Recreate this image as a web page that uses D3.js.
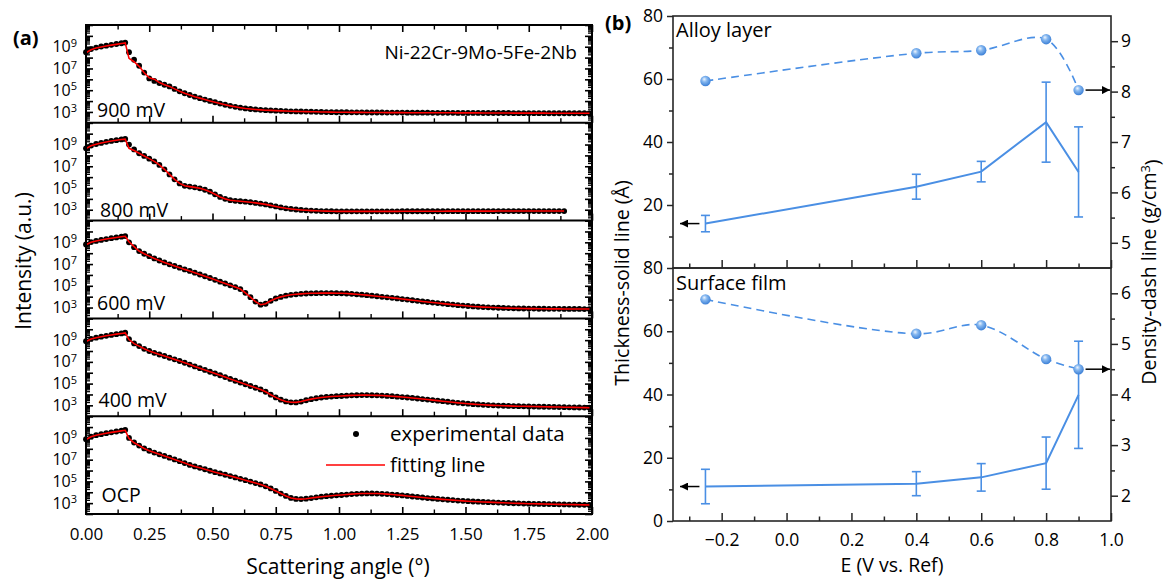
<!DOCTYPE html>
<html><head><meta charset="utf-8">
<script src="https://cdn.jsdelivr.net/npm/d3@7"></script>
<style>body{margin:0;background:#fff}</style>
</head><body>
<script>
// ---------------- DATA (panel a: log10 of intensity) ----------------
const angle = [0,0.02,0.04,0.06,0.08,0.10,0.12,0.14,0.155,0.17,
0.19,0.21,0.23,0.25,0.27,0.29,0.31,0.33,0.35,0.37,
0.39,0.41,0.43,0.45,0.47,0.49,0.51,0.53,0.55,0.57,
0.59,0.61,0.63,0.65,0.67,0.69,0.71,0.73,0.75,0.77,
0.79,0.81,0.83,0.85,0.87,0.89,0.91,0.93,0.95,0.97,
0.99,1.01,1.03,1.05,1.07,1.09,1.11,1.13,1.15,1.17,
1.19,1.21,1.23,1.25,1.27,1.29,1.31,1.33,1.35,1.37,
1.39,1.41,1.43,1.45,1.47,1.49,1.51,1.53,1.55,1.57,
1.59,1.61,1.63,1.65,1.67,1.69,1.71,1.73,1.75,1.77,
1.79,1.81,1.83,1.85,1.87,1.89,1.91,1.93,1.95,1.97,
1.99];

const panelLabels = ["900 mV","800 mV","600 mV","400 mV","OCP"];

const exp900 = [8.50,8.78,8.92,9.02,9.10,9.18,9.25,9.32,9.38,8.50,
7.80,7.25,6.62,6.08,5.85,5.66,5.50,5.35,5.12,4.90,
4.72,4.56,4.40,4.27,4.14,4.01,3.89,3.77,3.66,3.56,
3.47,3.39,3.32,3.27,3.23,3.19,3.16,3.14,3.12,3.10,
3.08,3.06,3.05,3.04,3.03,3.02,3.01,3.00,2.99,2.98,
2.97,2.97,2.97,2.96,2.96,2.96,2.95,2.95,2.95,2.95,
2.94,2.94,2.94,2.94,2.93,2.93,2.93,2.93,2.93,2.92,
2.92,2.92,2.92,2.92,2.91,2.91,2.91,2.91,2.91,2.90,
2.90,2.90,2.90,2.90,2.90,2.89,2.89,2.89,2.89,2.89,
2.89,2.89,2.88,2.88,2.88,2.88,2.88,2.88,2.88,2.88,
2.88];
const fit900 = [8.45,8.72,8.88,8.98,9.07,9.15,9.22,9.29,9.35,7.93,
7.62,7.20,6.60,6.15,6.02,5.70,5.50,5.35,5.12,4.90,
4.72,4.56,4.40,4.27,4.14,4.01,3.89,3.77,3.66,3.56,
3.47,3.39,3.32,3.27,3.23,3.19,3.16,3.14,3.12,3.10,
3.08,3.06,3.05,3.04,3.03,3.02,3.01,3.00,2.99,2.98,
2.97,2.97,2.97,2.96,2.96,2.96,2.95,2.95,2.95,2.95,
2.94,2.94,2.94,2.94,2.93,2.93,2.93,2.93,2.93,2.92,
2.92,2.92,2.92,2.92,2.91,2.91,2.91,2.91,2.91,2.90,
2.90,2.90,2.90,2.90,2.90,2.89,2.89,2.89,2.89,2.89,
2.89,2.89,2.88,2.88,2.88,2.88,2.88,2.88,2.88,2.88,
2.88];

const exp800 = [8.65,8.90,9.05,9.15,9.25,9.33,9.40,9.47,9.52,9.00,
8.55,8.20,7.95,7.70,7.45,7.12,6.72,6.25,5.80,5.42,
5.20,5.13,5.06,4.97,4.84,4.66,4.42,4.18,4.00,3.88,
3.82,3.78,3.74,3.69,3.63,3.56,3.49,3.40,3.30,3.21,
3.13,3.07,3.02,2.98,2.95,2.92,2.90,2.88,2.87,2.86,
2.85,2.85,2.85,2.85,2.85,2.85,2.85,2.85,2.85,2.85,
2.85,2.85,2.85,2.86,2.86,2.86,2.86,2.86,2.86,2.86,
2.86,2.86,2.87,2.87,2.87,2.87,2.87,2.87,2.87,2.87,
2.87,2.87,2.88,2.88,2.88,2.88,2.88,2.88,2.88,2.88,
2.88,2.88,2.88,2.88,2.88,2.88,null,null,null,null,
null];
const fit800 = [8.62,8.88,9.03,9.14,9.24,9.32,9.40,9.46,9.50,8.65,
8.45,8.20,7.95,7.70,7.45,7.12,6.72,6.25,5.80,5.42,
5.20,5.13,5.06,4.97,4.84,4.66,4.42,4.18,4.00,3.88,
3.82,3.78,3.74,3.69,3.63,3.56,3.49,3.40,3.30,3.21,
3.13,3.07,3.02,2.98,2.95,2.92,2.90,2.88,2.87,2.86,
2.85,2.85,2.85,2.85,2.85,2.85,2.85,2.85,2.85,2.85,
2.85,2.85,2.85,2.86,2.86,2.86,2.86,2.86,2.86,2.86,
2.86,2.86,2.87,2.87,2.87,2.87,2.87,2.87,2.87,2.87,
2.87,2.87,2.88,2.88,2.88,2.88,2.88,2.88,2.88,2.88,
2.88,2.88,2.88,2.88,2.88,2.88,null,null,null,null,
null];

const exp600 = [8.80,9.02,9.13,9.22,9.30,9.38,9.45,9.52,9.58,9.00,
8.55,8.20,7.95,7.73,7.52,7.33,7.15,6.98,6.82,6.67,
6.51,6.37,6.21,6.04,5.88,5.72,5.55,5.38,5.21,5.04,
4.88,4.70,4.35,3.95,3.55,3.26,3.35,3.62,3.83,3.98,
4.09,4.17,4.22,4.26,4.29,4.31,4.32,4.33,4.33,4.33,
4.32,4.31,4.29,4.26,4.22,4.18,4.14,4.09,4.04,3.99,
3.94,3.89,3.84,3.78,3.73,3.67,3.62,3.56,3.51,3.46,
3.41,3.36,3.31,3.27,3.22,3.18,3.14,3.10,3.07,3.04,
3.02,3.00,2.98,2.96,2.95,2.93,2.92,2.91,2.90,2.90,
2.89,2.89,2.88,2.88,2.88,2.87,2.87,2.87,2.87,2.86,
2.86];
const fit600 = [8.78,9.00,9.12,9.21,9.30,9.38,9.45,9.51,9.56,9.05,
8.60,8.20,7.95,7.73,7.52,7.33,7.15,6.98,6.82,6.67,
6.51,6.37,6.21,6.04,5.88,5.72,5.55,5.38,5.21,5.04,
4.88,4.70,4.35,3.95,3.55,3.26,3.35,3.62,3.83,3.98,
4.09,4.17,4.22,4.26,4.29,4.31,4.32,4.33,4.33,4.33,
4.32,4.31,4.29,4.26,4.22,4.18,4.14,4.09,4.04,3.99,
3.94,3.89,3.84,3.78,3.73,3.67,3.62,3.56,3.51,3.46,
3.41,3.36,3.31,3.27,3.22,3.18,3.14,3.10,3.07,3.04,
3.02,3.00,2.98,2.96,2.95,2.93,2.92,2.91,2.90,2.90,
2.89,2.89,2.88,2.88,2.88,2.87,2.87,2.87,2.87,2.86,
2.86];

const exp400 = [8.90,9.12,9.23,9.32,9.40,9.48,9.55,9.62,9.68,9.10,
8.70,8.45,8.20,8.00,7.83,7.68,7.54,7.38,7.23,7.08,
6.92,6.75,6.58,6.42,6.26,6.09,5.93,5.77,5.60,5.43,
5.26,5.10,4.94,4.78,4.62,4.46,4.25,3.98,3.73,3.52,
3.36,3.28,3.27,3.35,3.47,3.57,3.65,3.72,3.77,3.81,
3.84,3.86,3.89,3.92,3.93,3.94,3.94,3.93,3.92,3.90,
3.87,3.84,3.80,3.76,3.72,3.68,3.63,3.58,3.53,3.48,
3.43,3.38,3.33,3.28,3.23,3.19,3.15,3.11,3.08,3.05,
3.02,3.00,2.98,2.96,2.95,2.93,2.92,2.91,2.90,2.89,
2.88,2.87,2.86,2.85,2.84,2.83,2.82,2.81,2.80,2.79,
2.78];
const fit400 = [8.88,9.10,9.22,9.31,9.40,9.48,9.55,9.61,9.66,9.05,
8.68,8.45,8.20,8.00,7.83,7.68,7.54,7.38,7.23,7.08,
6.92,6.75,6.58,6.42,6.26,6.09,5.93,5.77,5.60,5.43,
5.26,5.10,4.94,4.78,4.62,4.46,4.25,3.98,3.73,3.52,
3.36,3.28,3.27,3.35,3.47,3.57,3.65,3.72,3.77,3.81,
3.84,3.86,3.89,3.92,3.93,3.94,3.94,3.93,3.92,3.90,
3.87,3.84,3.80,3.76,3.72,3.68,3.63,3.58,3.53,3.48,
3.43,3.38,3.33,3.28,3.23,3.19,3.15,3.11,3.08,3.05,
3.02,3.00,2.98,2.96,2.95,2.93,2.92,2.91,2.90,2.89,
2.88,2.87,2.86,2.85,2.84,2.83,2.82,2.81,2.80,2.79,
2.78];

const expOCP = [8.88,9.12,9.25,9.35,9.44,9.52,9.59,9.66,9.73,9.00,
8.58,8.30,8.03,7.82,7.65,7.49,7.34,7.18,7.02,6.86,
6.69,6.52,6.38,6.25,6.12,5.98,5.85,5.73,5.61,5.49,
5.37,5.24,5.11,4.98,4.85,4.72,4.55,4.35,4.12,3.88,
3.66,3.48,3.39,3.37,3.41,3.47,3.53,3.59,3.64,3.68,
3.72,3.75,3.79,3.83,3.86,3.88,3.89,3.89,3.88,3.86,
3.83,3.79,3.75,3.71,3.66,3.61,3.57,3.52,3.47,3.43,
3.39,3.35,3.31,3.28,3.24,3.21,3.18,3.15,3.13,3.11,
3.09,3.07,3.05,3.03,3.01,2.99,2.98,2.96,2.95,2.94,
2.93,2.92,2.91,2.90,2.89,2.88,2.87,2.86,2.85,2.84,
2.83];
const fitOCP = [8.86,9.10,9.24,9.34,9.43,9.51,9.58,9.65,9.70,8.95,
8.55,8.30,8.03,7.82,7.65,7.49,7.34,7.18,7.02,6.86,
6.69,6.52,6.38,6.25,6.12,5.98,5.85,5.73,5.61,5.49,
5.37,5.24,5.11,4.98,4.85,4.72,4.55,4.35,4.12,3.88,
3.66,3.48,3.39,3.37,3.41,3.47,3.53,3.59,3.64,3.68,
3.72,3.75,3.79,3.83,3.86,3.88,3.89,3.89,3.88,3.86,
3.83,3.79,3.75,3.71,3.66,3.61,3.57,3.52,3.47,3.43,
3.39,3.35,3.31,3.28,3.24,3.21,3.18,3.15,3.13,3.11,
3.09,3.07,3.05,3.03,3.01,2.99,2.98,2.96,2.95,2.94,
2.93,2.92,2.91,2.90,2.89,2.88,2.87,2.86,2.85,2.84,
2.83];

// ---------------- DATA (panel b) ----------------
const potential = [-0.25, 0.4, 0.6, 0.8, 0.9];
const alloyThickness = [14.1, 25.8, 30.6, 46.3, 30.5];
const alloyThicknessErr = [2.6, 3.95, 3.25, 12.7, 14.3];
const alloyDensity = [8.21, 8.76, 8.82, 9.04, 8.03];
const filmThickness = [10.9, 11.8, 13.8, 18.3, 39.9];
const filmThicknessErr = [5.45, 3.8, 4.35, 8.25, 16.95];
const filmDensity = [5.88, 5.20, 5.37, 4.70, 4.50];

// ---------------- DRAWING ----------------
const FONT = '"Open Sans", sans-serif';
const BLUE = "#4a8fe4";
const svg = d3.select("body").append("svg").attr("width",1164).attr("height",579)
  .style("font-family", FONT);
const defs = svg.append("defs");
const grad = defs.append("radialGradient").attr("id","sph")
  .attr("cx","45%").attr("cy","40%").attr("r","60%").attr("fx","38%").attr("fy","32%");
grad.append("stop").attr("offset","0%").attr("stop-color","#eef5fe");
grad.append("stop").attr("offset","40%").attr("stop-color","#86b8f0");
grad.append("stop").attr("offset","100%").attr("stop-color","#3b7fd6");
defs.append("marker").attr("id","arr").attr("viewBox","0 0 10 10").attr("refX",10).attr("refY",5)
  .attr("markerWidth",11).attr("markerHeight",8).attr("markerUnits","userSpaceOnUse").attr("orient","auto")
  .append("path").attr("d","M0,0L10,5L0,10z").attr("fill","#000");

function clean(g, color, w, fs){
  g.select(".domain").remove();
  g.selectAll(".tick line").attr("stroke",color).attr("stroke-width",w);
  g.selectAll(".tick text").attr("fill","#000").style("font-family",FONT).attr("font-size",fs);
  g.attr("font-family",null).attr("font-size",null);
}

// ===== Panel (a) =====
const aL = 86, aR = 592, aT = 25, aB = 514;
const pH = (aB - aT) / 5;
const xA = d3.scaleLinear().domain([0,2]).range([aL,aR]);
const majX = d3.range(0, 2.001, 0.25), minX = d3.range(0.125, 2, 0.25);
const spectra = [
  {label:panelLabels[0], exp:exp900, fit:fit900, lx:97, ly:116.5},
  {label:panelLabels[1], exp:exp800, fit:fit800, lx:100, ly:216.5},
  {label:panelLabels[2], exp:exp600, fit:fit600, lx:97, ly:310},
  {label:panelLabels[3], exp:exp400, fit:fit400, lx:98.5, ly:406.5},
  {label:panelLabels[4], exp:expOCP, fit:fitOCP, lx:101.5, ly:501.5}
];
const decades = d3.range(2,12).map(e=>Math.pow(10,e));
const minorLog = [];
d3.range(2,11).forEach(e=>{ for(let m=2;m<=9;m++) minorLog.push(m*Math.pow(10,e)); });

spectra.forEach((s,i)=>{
  const top = aT + i*pH, bot = top + pH;
  const y = d3.scaleLog().domain([1e2,1e11]).range([bot, top]);
  const gl = svg.append("g").attr("transform",`translate(${aL},0)`)
    .call(d3.axisLeft(y).tickValues(decades).tickSize(-7).tickPadding(9).tickFormat(()=>""));
  clean(gl,"#000",1.6,16);
  gl.selectAll(".tick text").each(function(d){
    const e = Math.round(Math.log10(d));
    if ([3,5,7,9].includes(e)) {
      const t = d3.select(this);
      t.append("tspan").text("10");
      t.append("tspan").attr("dy","-0.5em").attr("font-size",11).text(e);
    }
  });
  const glm = svg.append("g").attr("transform",`translate(${aL},0)`)
    .call(d3.axisLeft(y).tickValues(minorLog).tickSize(-4).tickFormat(()=>""));
  clean(glm,"#000",1.3,10);
  const gr = svg.append("g").attr("transform",`translate(${aR},0)`)
    .call(d3.axisRight(y).tickValues(decades).tickSize(-7).tickFormat(()=>""));
  clean(gr,"#000",1.6,10);
  const grm = svg.append("g").attr("transform",`translate(${aR},0)`)
    .call(d3.axisRight(y).tickValues(minorLog).tickSize(-4).tickFormat(()=>""));
  clean(grm,"#000",1.3,10);
  const gb = svg.append("g").attr("transform",`translate(0,${bot})`)
    .call(d3.axisBottom(xA).tickValues(majX).tickSize(-7).tickPadding(14)
      .tickFormat(i===4 ? d3.format(".2f") : ()=>""));
  clean(gb,"#000",1.6,17);
  const gbm = svg.append("g").attr("transform",`translate(0,${bot})`)
    .call(d3.axisBottom(xA).tickValues(minX).tickSize(-4.5).tickFormat(()=>""));
  clean(gbm,"#000",1.4,10);
  if (i===0){
    const gt = svg.append("g").attr("transform",`translate(0,${top})`)
      .call(d3.axisTop(xA).tickValues(majX).tickSize(-7).tickFormat(()=>""));
    clean(gt,"#000",1.6,10);
    const gtm = svg.append("g").attr("transform",`translate(0,${top})`)
      .call(d3.axisTop(xA).tickValues(minX).tickSize(-4.5).tickFormat(()=>""));
    clean(gtm,"#000",1.4,10);
  }
  const pts = angle.map((a,k)=>({a, v:s.exp[k]})).filter(d=>d.v!=null);
  svg.append("g").selectAll("circle").data(pts).join("circle")
    .attr("cx",d=>xA(d.a)).attr("cy",d=>y(Math.pow(10,d.v))).attr("r",2.9).attr("fill","#000");
  const fpts = angle.map((a,k)=>({a, v:s.fit[k]}));
  svg.append("path").datum(fpts)
    .attr("d", d3.line().defined(d=>d.v!=null).x(d=>xA(d.a)).y(d=>y(Math.pow(10,d.v))))
    .attr("fill","none").attr("stroke","#ff0000").attr("stroke-width",1.6);
  svg.append("text").attr("x",s.lx).attr("y",s.ly).attr("font-size",19.5).attr("fill","#000").text(s.label);
  if (i>0) svg.append("line").attr("x1",aL).attr("x2",aR).attr("y1",top).attr("y2",top)
    .attr("stroke","#000").attr("stroke-width",2);
});
svg.append("rect").attr("x",aL).attr("y",aT).attr("width",aR-aL).attr("height",aB-aT)
  .attr("fill","none").attr("stroke","#000").attr("stroke-width",2);

svg.append("text").attr("x",577).attr("y",58.5).attr("text-anchor","end").attr("font-size",19)
  .text("Ni-22Cr-9Mo-5Fe-2Nb");
svg.append("text").attr("x",13).attr("y",44.5).attr("font-size",20).attr("font-weight","bold").text("(a)");
svg.append("circle").attr("cx",356).attr("cy",434).attr("r",3).attr("fill","#000");
svg.append("text").attr("x",390).attr("y",441).attr("font-size",20.5).text("experimental data");
svg.append("line").attr("x1",326).attr("x2",385).attr("y1",465).attr("y2",465).attr("stroke","#ff0000").attr("stroke-width",1.6);
svg.append("text").attr("x",390).attr("y",472).attr("font-size",20.5).text("fitting line");
svg.append("text").attr("transform","translate(31,261) rotate(-90)").attr("text-anchor","middle")
  .attr("font-size",21).text("Intensity (a.u.)");
svg.append("text").attr("x",338).attr("y",574).attr("text-anchor","middle").attr("font-size",21)
  .text("Scattering angle (°)");

// ===== Panel (b) =====
const bL = 673, bR = 1111, bT = 16, bM = 268, bB = 521;
const xE = d3.scaleLinear().domain([-0.35,1.0]).range([bL,bR]);
const FR = "#262626";
const subs = [
  {name:"Alloy layer", top:bT, bot:bM, th:alloyThickness, err:alloyThicknessErr, den:alloyDensity,
   dDom:[4.5,9.5], dMaj:[5,6,7,8,9], dMin:[5.5,6.5,7.5,8.5], tMaj:[20,40,60,80], ty:37},
  {name:"Surface film", top:bM, bot:bB, th:filmThickness, err:filmThicknessErr, den:filmDensity,
   dDom:[1.5,6.5], dMaj:[2,3,4,5,6], dMin:[2.5,3.5,4.5,5.5], tMaj:[0,20,40,60,80], ty:289.5}
];
subs.forEach((p,i)=>{
  const yT = d3.scaleLinear().domain([0,80]).range([p.bot,p.top]);
  const yD = d3.scaleLinear().domain(p.dDom).range([p.bot,p.top]);
  const g1 = svg.append("g").attr("transform",`translate(${bL},0)`)
    .call(d3.axisLeft(yT).tickValues(p.tMaj).tickSize(6).tickPadding(4));
  clean(g1,FR,1.5,17.5);
  const g2 = svg.append("g").attr("transform",`translate(${bL},0)`)
    .call(d3.axisLeft(yT).tickValues([10,30,50,70]).tickSize(4).tickFormat(()=>""));
  clean(g2,FR,1.5,10);
  const g3 = svg.append("g").attr("transform",`translate(${bR},0)`)
    .call(d3.axisRight(yD).tickValues(p.dMaj).tickSize(7).tickPadding(3).tickFormat(d3.format("d")));
  clean(g3,FR,1.5,17.5);
  const g4 = svg.append("g").attr("transform",`translate(${bR},0)`)
    .call(d3.axisRight(yD).tickValues(p.dMin).tickSize(4).tickFormat(()=>""));
  clean(g4,FR,1.5,10);
  const g5 = svg.append("g").attr("transform",`translate(0,${p.bot})`)
    .call(d3.axisBottom(xE).tickValues([-0.2,0,0.2,0.4,0.6,0.8,1.0]).tickSize(-8).tickPadding(13)
      .tickFormat(i===1 ? d3.format(".1f") : ()=>""));
  clean(g5,FR,1.5,17.5);
  const g6 = svg.append("g").attr("transform",`translate(0,${p.bot})`)
    .call(d3.axisBottom(xE).tickValues([-0.3,-0.1,0.1,0.3,0.5,0.7,0.9]).tickSize(-4.5).tickFormat(()=>""));
  clean(g6,FR,1.5,10);
  svg.append("rect").attr("x",bL).attr("y",p.top).attr("width",bR-bL).attr("height",p.bot-p.top)
    .attr("fill","none").attr("stroke",FR).attr("stroke-width",1.6);
  const rows = potential.map((e,k)=>({e, t:p.th[k], s:p.err[k], d:p.den[k]}));
  svg.append("path").datum(rows).attr("d",d3.line().x(d=>xE(d.e)).y(d=>yT(d.t)))
    .attr("fill","none").attr("stroke",BLUE).attr("stroke-width",2);
  const eb = svg.append("g").attr("stroke",BLUE).attr("stroke-width",1.6);
  rows.forEach(d=>{
    const x = xE(d.e);
    eb.append("line").attr("x1",x).attr("x2",x).attr("y1",yT(d.t-d.s)).attr("y2",yT(d.t+d.s));
    eb.append("line").attr("x1",x-4.5).attr("x2",x+4.5).attr("y1",yT(d.t-d.s)).attr("y2",yT(d.t-d.s));
    eb.append("line").attr("x1",x-4.5).attr("x2",x+4.5).attr("y1",yT(d.t+d.s)).attr("y2",yT(d.t+d.s));
  });
  svg.append("path").datum(rows).attr("d",d3.line().curve(d3.curveCatmullRom.alpha(0.5)).x(d=>xE(d.e)).y(d=>yD(d.d)))
    .attr("fill","none").attr("stroke",BLUE).attr("stroke-width",1.6).attr("stroke-dasharray","8,5");
  svg.append("g").selectAll("circle").data(rows).join("circle")
    .attr("cx",d=>xE(d.e)).attr("cy",d=>yD(d.d)).attr("r",5.2).attr("fill","url(#sph)");
  const f = rows[0], l = rows[rows.length-1];
  svg.append("line").attr("x1",xE(f.e)-6).attr("x2",bL+7).attr("y1",yT(f.t)).attr("y2",yT(f.t))
    .attr("stroke","#000").attr("stroke-width",1.5).attr("marker-end","url(#arr)");
  svg.append("line").attr("x1",xE(l.e)+7).attr("x2",bR-1).attr("y1",yD(l.d)).attr("y2",yD(l.d))
    .attr("stroke","#000").attr("stroke-width",1.5).attr("marker-end","url(#arr)");
  svg.append("text").attr("x",676).attr("y",p.ty).attr("font-size",20).text(p.name);
});
svg.append("text").attr("x",605).attr("y",29.5).attr("font-size",20).attr("font-weight","bold").text("(b)");
svg.append("text").attr("transform","translate(629,283) rotate(-90)").attr("text-anchor","middle")
  .attr("font-size",19.6).text("Thickness-solid line (Å)");
const dt = svg.append("text").attr("transform","translate(1156,272) rotate(-90)").attr("text-anchor","middle")
  .attr("font-size",19.5);
dt.append("tspan").text("Density-dash line (g/cm");
dt.append("tspan").attr("dy","-0.45em").attr("font-size",13).text("3");
dt.append("tspan").attr("dy","0.45em").text(")");
svg.append("text").attr("x",892).attr("y",572).attr("text-anchor","middle").attr("font-size",19.5)
  .text("E (V vs. Ref)");
</script>
</body></html>
